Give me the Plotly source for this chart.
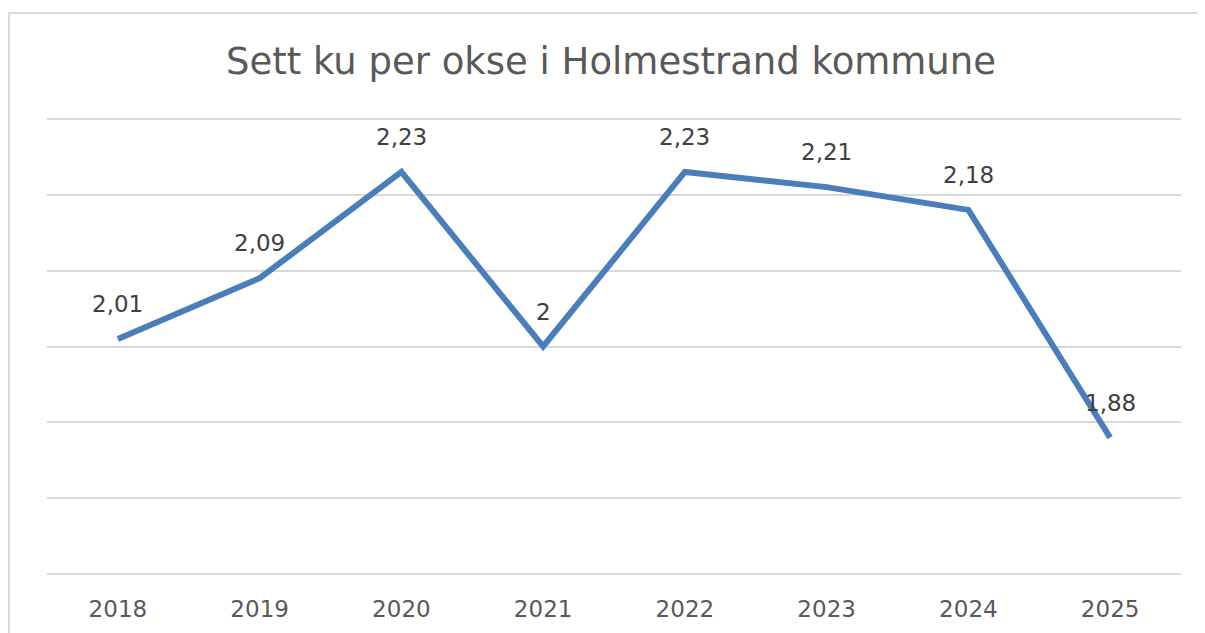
import plotly.graph_objects as go

years = ["2018", "2019", "2020", "2021", "2022", "2023", "2024", "2025"]
values = [2.01, 2.09, 2.23, 2.00, 2.23, 2.21, 2.18, 1.88]
labels = ["2,01", "2,09", "2,23", "2", "2,23", "2,21", "2,18", "1,88"]
y_ticks = [1.7, 1.8, 1.9, 2.0, 2.1, 2.2, 2.3]

OFF = 8  # page body margin
W, H = 1205 - OFF, 633 - OFF
L, R, T, B = 47 - OFF, 24, 115 - OFF, 55
pw, ph = W - L - R, H - T - B
FONT = "DejaVu Sans"

fig = go.Figure()
fig.add_trace(go.Scatter(
    x=years, y=values, mode="lines",
    line=dict(color="#4A7EBB", width=6),
    hoverinfo="skip", showlegend=False,
))

for i, (y, t) in enumerate(zip(values, labels)):
    fig.add_annotation(x=i, y=y, xref="x", yref="y", text=t, showarrow=False,
                       yshift=35,
                       font=dict(family=FONT, size=23, color="#404040"))

# outer chart frame
fig.add_shape(type="rect", xref="paper", yref="paper",
              x0=(9 - OFF - L) / pw, x1=(W + 20 - L) / pw,
              y0=-(H + 20 - T - ph) / ph, y1=1 + (T - (13 - OFF)) / ph,
              line=dict(color="#D9D9D9", width=2), layer="below")

fig.update_layout(
    width=W, height=H,
    margin=dict(l=L, r=R, t=T, b=B, autoexpand=False),
    paper_bgcolor="white", plot_bgcolor="white",
    title=dict(text="Sett ku per okse i Holmestrand kommune",
               x=(611 - OFF) / W, xanchor="center",
               y=1 - (61 - OFF) / H, yanchor="middle",
               font=dict(family=FONT, size=37, color="#595959")),
    xaxis=dict(type="category", range=[-0.5, 7.5], showgrid=False,
               showline=False, zeroline=False, automargin=False,
               ticks="outside", ticklen=10, tickcolor="rgba(0,0,0,0)",
               tickfont=dict(family=FONT, size=23, color="#595959")),
    yaxis=dict(range=[1.695, 2.305], tickvals=y_ticks, showticklabels=False,
               showgrid=True, gridcolor="#D9D9D9", gridwidth=1.5,
               automargin=False,
               zeroline=False, showline=False, ticks=""),
)

fig.write_html("out.html")
